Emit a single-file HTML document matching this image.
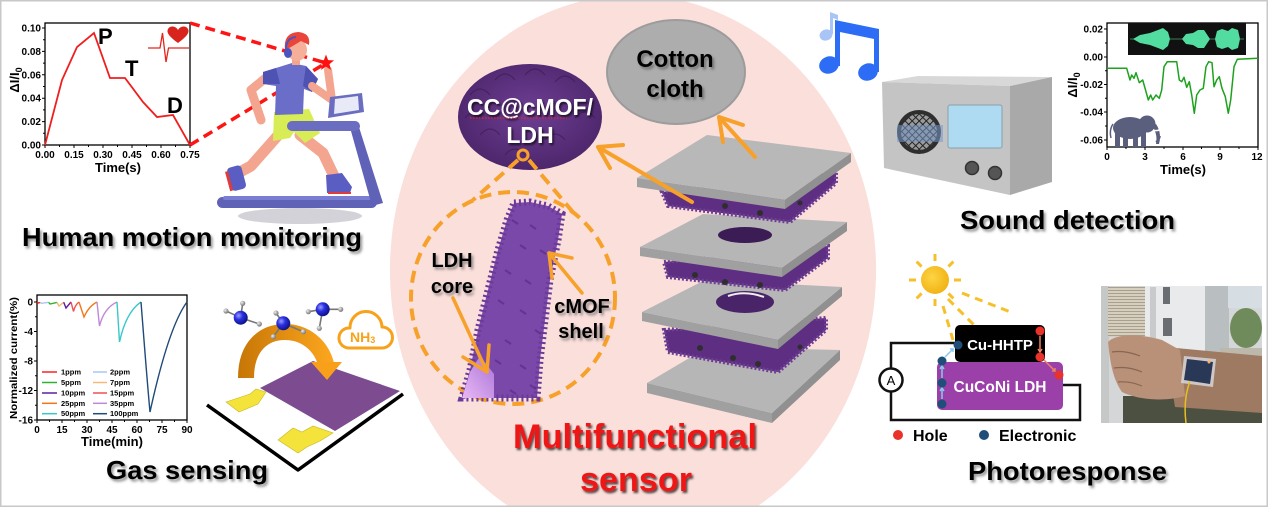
<!DOCTYPE html>
<html><head><meta charset="utf-8">
<style>
html,body{margin:0;padding:0;background:#fff;width:1270px;height:508px;overflow:hidden}
svg{display:block;overflow:hidden}
text{font-family:"Liberation Sans",Arial,Helvetica,sans-serif;font-weight:bold}
</style></head><body>
<svg width="1270" height="508" viewBox="0 0 1270 508" xmlns="http://www.w3.org/2000/svg">
<defs>
<clipPath id="frame"><rect x="0" y="0" width="1270" height="508"/></clipPath>
<filter id="sh" x="-5%" y="-30%" width="115%" height="170%"><feDropShadow dx="2" dy="2.5" stdDeviation="1.2" flood-color="#444" flood-opacity="0.55"/></filter>
<filter id="shd" x="-5%" y="-30%" width="115%" height="170%"><feDropShadow dx="1.5" dy="2" stdDeviation="1" flood-color="#000" flood-opacity="0.7"/></filter>
<radialGradient id="cc" cx="50%" cy="45%" r="60%"><stop offset="0" stop-color="#6e3e94"/><stop offset="1" stop-color="#4a2468"/></radialGradient>
<radialGradient id="nball" cx="35%" cy="35%" r="65%"><stop offset="0" stop-color="#9a9cff"/><stop offset="0.45" stop-color="#2a30e0"/><stop offset="1" stop-color="#10148a"/></radialGradient>
<radialGradient id="hball" cx="35%" cy="35%" r="65%"><stop offset="0" stop-color="#eee"/><stop offset="1" stop-color="#777"/></radialGradient>
<linearGradient id="arcg" gradientUnits="userSpaceOnUse" x1="238" y1="0" x2="330" y2="0"><stop offset="0" stop-color="#c67606"/><stop offset="1" stop-color="#fba51e"/></linearGradient>
<linearGradient id="core" x1="0" y1="1" x2="1" y2="0"><stop offset="0" stop-color="#eab8f6"/><stop offset="1" stop-color="#a874d6"/></linearGradient>
<radialGradient id="sun" cx="40%" cy="40%" r="60%"><stop offset="0" stop-color="#fdd444"/><stop offset="1" stop-color="#f2b416"/></radialGradient>
<pattern id="mesh" width="5" height="5" patternUnits="userSpaceOnUse" patternTransform="rotate(45)"><rect width="5" height="5" fill="#9a9a9a"/><path d="M0,0H5M0,0V5" stroke="#222" stroke-width="2"/></pattern>
<pattern id="louver" width="4" height="3" patternUnits="userSpaceOnUse"><rect width="4" height="3" fill="#d6cfbf"/><rect y="2" width="4" height="1" fill="#a89f8c"/></pattern>
</defs>
<g clip-path="url(#frame)">
<rect width="1270" height="508" fill="#fff"/>
<!-- pink central ellipse (clipped to frame) -->
<path d="M509.7,507 A243,275 0 0 1 586.8,0 L679.2,0 A243,275 0 0 1 756.3,507 Z" fill="#fadfdb"/>

<!-- ============ TOP LEFT CHART ============ -->
<rect x="45" y="23" width="145" height="122" fill="#fff" stroke="#000" stroke-width="1.3"/>
<path d="M45,145h-3M45,133.3h-2M45,121.6h-3M45,109.9h-2M45,98.2h-3M45,86.5h-2M45,74.8h-3M45,63.1h-2M45,51.4h-3M45,39.7h-2M45,28h-3M45,145v3M59.5,145v2M74,145v3M88.5,145v2M103,145v3M117.5,145v2M132,145v3M146.5,145v2M161,145v3M175.5,145v2M190,145v3" stroke="#000" stroke-width="1"/>
<g font-size="10" text-anchor="end">
<text x="41" y="148.5">0.00</text><text x="41" y="125">0.02</text><text x="41" y="101.7">0.04</text><text x="41" y="78.3">0.06</text><text x="41" y="55">0.08</text><text x="41" y="31.5">0.10</text>
</g>
<g font-size="10" text-anchor="middle">
<text x="45" y="158">0.00</text><text x="74" y="158">0.15</text><text x="103" y="158">0.30</text><text x="132" y="158">0.45</text><text x="161" y="158">0.60</text><text x="190" y="158">0.75</text>
</g>
<text x="118" y="172" font-size="13" text-anchor="middle">Time(s)</text>
<text transform="translate(19,80) rotate(-90)" font-size="13" text-anchor="middle">ΔI/I<tspan font-size="9" dy="3">0</tspan></text>
<polyline points="45,145 62,80 77,47 94,33 110,78 125,78 143,102 157,117 173,115 190,145" fill="none" stroke="#f01e1e" stroke-width="1.8"/>
<text x="98" y="44" font-size="22">P</text>
<text x="125" y="76" font-size="22">T</text>
<text x="167" y="113" font-size="22">D</text>
<polyline points="148,48 160,48 162.5,33 166,62 168.5,48 189,48" fill="none" stroke="#e4261d" stroke-width="1.3"/>
<path d="M178,43 C170,37 166,33 168,29 C170,25 176,26 178,30 C180,26 186,25 188,29 C190,33 186,37 178,43 Z" fill="#d8241c"/>

<line x1="190" y1="23" x2="326" y2="63" stroke="#ff1414" stroke-width="3.5" stroke-dasharray="10 6"/>
<line x1="190" y1="145" x2="326" y2="63" stroke="#ff1414" stroke-width="3.5" stroke-dasharray="10 6"/>

<!-- ============ RUNNER ============ -->
<ellipse cx="300" cy="216" rx="62" ry="8" fill="#d2d2d8"/>
<path d="M281,132 L251,166 L240,172" stroke="#f3a58f" stroke-width="11" fill="none" stroke-linecap="round" stroke-linejoin="round"/>
<g transform="rotate(-15 237 178)"><rect x="229" y="166" width="15" height="24" rx="4" fill="#5a5ec2"/><rect x="227" y="169" width="3" height="20" fill="#e03a3a"/></g>
<path d="M300,135 L323,153 L334,176" stroke="#f3a58f" stroke-width="11" fill="none" stroke-linecap="round" stroke-linejoin="round"/>
<path d="M326,175 L342,173 L352,187 L350,193 L327,193 Z" fill="#5a5ec2"/>
<line x1="328" y1="193" x2="351" y2="193" stroke="#e03a3a" stroke-width="2"/>
<path d="M268,76 L251,90 L261,120" stroke="#f3a58f" stroke-width="9" fill="none" stroke-linecap="round" stroke-linejoin="round"/>
<path d="M274,112 L309,109 L320,133 L305,143 L294,132 L290,138 L273,141 Z" fill="#d8ec55"/>
<path d="M263,72 L292,63 L306,66 L318,79 L312,92 L304,89 L303,114 L275,115 L276,86 L263,84 Z" fill="#6a6ec8"/>
<path d="M263,72 L276,68 L280,84 L263,84 Z" fill="#4e52b2"/>
<path d="M306,66 L318,79 L312,92 L303,86 Z" fill="#4e52b2"/>
<path d="M312,86 L332,100 L328,70" stroke="#f3a58f" stroke-width="8" fill="none" stroke-linecap="round" stroke-linejoin="round"/>
<rect x="292" y="56" width="8" height="9" fill="#f3a58f"/>
<ellipse cx="297" cy="50" rx="10" ry="11" fill="#f6b09a"/>
<path d="M285,50 Q283,33 298,32 Q311,33 309,45 L301,41 L291,47 Z" fill="#e9453a"/>
<path d="M286,52 Q285,38 296,37" stroke="#4a55c0" stroke-width="2" fill="none"/>
<ellipse cx="288" cy="53" rx="4" ry="5" fill="#4a55c0"/>
<rect x="217" y="197" width="160" height="11" rx="5.5" fill="#5f62b6"/>
<rect x="223" y="196" width="148" height="4" rx="2" fill="#7a7ed2"/>
<polygon points="349,124 358,124 383,203 372,206" fill="#5f62b6"/>
<rect x="287" y="121" width="73" height="10" rx="5" fill="#6a6dc0"/>
<polygon points="330,97 362,93 364,112 328,118" fill="#6a6dc0"/>
<polygon points="335,99 358,96 359,110 334,114" fill="#e8eaf8"/>
<polygon points="326,54.5 328.12,60.09 334.08,60.37 329.42,64.11 331,69.88 326,66.6 321,69.88 322.58,64.11 317.92,60.37 323.88,60.09" fill="#ff1010"/>

<text x="22" y="246" font-size="26" textLength="340" lengthAdjust="spacingAndGlyphs" filter="url(#sh)">Human motion monitoring</text>

<!-- ============ GAS CHART ============ -->
<rect x="37" y="295" width="150" height="125" fill="#fff" stroke="#000" stroke-width="1.3"/>
<path d="M37,302h-3M37,316.75h-2M37,331.5h-3M37,346.25h-2M37,361h-3M37,375.75h-2M37,390.5h-3M37,405.25h-2M37,420h-3M37,420v3M49.5,420v2M62,420v3M74.5,420v2M87,420v3M99.5,420v2M112,420v3M124.5,420v2M137,420v3M149.5,420v2M162,420v3M174.5,420v2M187,420v3" stroke="#000" stroke-width="1"/>
<g font-size="10" text-anchor="end">
<text x="33" y="305.5">0</text><text x="33" y="335">-4</text><text x="33" y="364.5">-8</text><text x="33" y="394">-12</text><text x="33" y="423.5">-16</text>
</g>
<g font-size="10" text-anchor="middle">
<text x="37" y="433">0</text><text x="62" y="433">15</text><text x="87" y="433">30</text><text x="112" y="433">45</text><text x="137" y="433">60</text><text x="162" y="433">75</text><text x="187" y="433">90</text>
</g>
<text x="112" y="446" font-size="13" text-anchor="middle">Time(min)</text>
<text transform="translate(17,358) rotate(-90)" font-size="10.5" text-anchor="middle" textLength="122" lengthAdjust="spacingAndGlyphs">Normalized current(%)</text>
<g fill="none" stroke-width="1.4">
<path d="M37,302 L38.5,303 L40.3,302.5" stroke="#ff2020"/>
<path d="M40.3,302.5 L41.5,303.3 L48.7,302.3" stroke="#a8c8f0"/>
<path d="M48.7,302.3 L50,304 L57,302.4" stroke="#30b030"/>
<path d="M57,302.4 L59,306 L63.7,302.2" stroke="#f8b878"/>
<path d="M63.7,302.2 L66,308 L71,302" stroke="#5a1fa0"/>
<path d="M71,302 L73.5,311.5 Q75,305 79,302" stroke="#f05050"/>
<path d="M79,302 L84,317 Q89,306 97,302" stroke="#f07818"/>
<path d="M97,302 L99.5,326 Q104,308 117,302" stroke="#c088d8"/>
<path d="M117,302 L119.5,342 Q126,312 141,302" stroke="#38c8c8"/>
<path d="M141,302 C144,340 147,380 150,412 C157,380 170,325 187,302" stroke="#204a78"/>
</g>
<g stroke-width="1.5">
<line x1="42" y1="372" x2="57" y2="372" stroke="#ff2020"/>
<line x1="42" y1="382.5" x2="57" y2="382.5" stroke="#30b030"/>
<line x1="42" y1="393" x2="57" y2="393" stroke="#5a1fa0"/>
<line x1="42" y1="403.3" x2="57" y2="403.3" stroke="#f07818"/>
<line x1="42" y1="413.7" x2="57" y2="413.7" stroke="#38c8c8"/>
<line x1="93" y1="372" x2="107" y2="372" stroke="#a8c8f0"/>
<line x1="93" y1="382.5" x2="107" y2="382.5" stroke="#f8b878"/>
<line x1="93" y1="393" x2="107" y2="393" stroke="#f05050"/>
<line x1="93" y1="403.3" x2="107" y2="403.3" stroke="#c088d8"/>
<line x1="93" y1="413.7" x2="107" y2="413.7" stroke="#204a78"/>
</g>
<g font-size="7.5">
<text x="61" y="374.5">1ppm</text><text x="61" y="385">5ppm</text><text x="61" y="395.5">10ppm</text><text x="61" y="405.8">25ppm</text><text x="61" y="416.2">50ppm</text>
<text x="110" y="374.5">2ppm</text><text x="110" y="385">7ppm</text><text x="110" y="395.5">15ppm</text><text x="110" y="405.8">35ppm</text><text x="110" y="416.2">100ppm</text>
</g>

<!-- ============ GAS DEVICE ============ -->
<polygon points="207,405 288,366 403,392 298,470" fill="#fff"/>
<polyline points="207,405 298,470 403,394" fill="none" stroke="#000" stroke-width="3.5" stroke-linejoin="round"/>
<polygon points="260,388 313,361 400,391 335,431" fill="#7c4b90"/>
<polygon points="226,402 250,394 256,389 266,392 258,404 239,412" fill="#f3e33a" stroke="#c8b820" stroke-width="0.6"/>
<polygon points="278,440 293,428 302,432 313,426 333,433 320,441 307,447 298,453" fill="#f3e33a" stroke="#c8b820" stroke-width="0.6"/>
<path d="M246,378 C246,345 265,332 285,332 C305,332 321,345 326,364" fill="none" stroke="url(#arcg)" stroke-width="16"/>
<polygon points="311,362 342,362 327,380" fill="#f9a01a"/>
<g stroke="#777" stroke-width="1.6">
<line x1="240.7" y1="317.7" x2="226" y2="311"/><line x1="240.7" y1="317.7" x2="242.7" y2="303.3"/><line x1="240.7" y1="317.7" x2="259.3" y2="324"/>
<line x1="283.3" y1="323.3" x2="273.3" y2="336.7"/><line x1="283.3" y1="323.3" x2="303.3" y2="331.7"/><line x1="283.3" y1="323.3" x2="276" y2="313"/>
<line x1="322.7" y1="309.3" x2="308.3" y2="311.7"/><line x1="322.7" y1="309.3" x2="340.7" y2="309.3"/><line x1="322.7" y1="309.3" x2="319.3" y2="328.3"/>
</g>
<g fill="url(#hball)">
<circle cx="226" cy="311" r="2.6"/><circle cx="242.7" cy="303.3" r="2.6"/><circle cx="259.3" cy="324" r="2.6"/>
<circle cx="273.3" cy="336.7" r="2.6"/><circle cx="303.3" cy="331.7" r="2.6"/><circle cx="276" cy="313" r="2.6"/>
<circle cx="308.3" cy="311.7" r="2.6"/><circle cx="340.7" cy="309.3" r="2.6"/><circle cx="319.3" cy="328.3" r="2.6"/>
</g>
<circle cx="240.7" cy="317.7" r="7" fill="url(#nball)"/>
<circle cx="283.3" cy="323.3" r="7" fill="url(#nball)"/>
<circle cx="322.7" cy="309.3" r="7" fill="url(#nball)"/>
<path d="M348,348 A10,10 0 0 1 350,328 A16,16 0 0 1 382,327 A10.5,10.5 0 0 1 382,348 Z" fill="#fff" stroke="#f7a21b" stroke-width="3" stroke-linejoin="round"/>
<text x="350" y="342" font-size="14" fill="#f7a21b">NH<tspan font-size="9" dy="1">3</tspan></text>

<text x="106" y="479" font-size="26" textLength="162" lengthAdjust="spacingAndGlyphs" filter="url(#sh)">Gas sensing</text>

<!-- ============ CENTER ============ -->
<ellipse cx="676" cy="72" rx="69" ry="52" fill="#adadad"/>
<ellipse cx="676" cy="72" rx="69" ry="52" fill="none" stroke="#9c9c9c" stroke-width="2"/>
<text x="675" y="67" font-size="24" text-anchor="middle" filter="url(#sh)">Cotton</text>
<text x="675" y="97" font-size="24" text-anchor="middle" filter="url(#sh)">cloth</text>
<ellipse cx="530" cy="117" rx="72" ry="53" fill="url(#cc)"/>
<g stroke="#3a1a52" stroke-width="1.2" fill="none" opacity="0.6">
<path d="M470,95 q10,-12 20,0 M495,80 q10,-12 20,0 M525,75 q10,-12 20,0 M555,82 q10,-12 20,0 M480,135 q10,-12 20,0 M545,140 q10,-12 20,0 M575,118 q10,-12 20,0 M465,118 q8,-10 16,0 M505,155 q10,-12 20,0"/>
</g>
<text x="530" y="115" font-size="23" fill="#fff" text-anchor="middle" filter="url(#shd)">CC@cMOF/</text>
<text x="530" y="143" font-size="23" fill="#fff" text-anchor="middle" filter="url(#shd)">LDH</text>
<line x1="470" y1="118" x2="567" y2="118" stroke="#ff2020" stroke-width="1" stroke-dasharray="1.5 1.5"/>

<!-- layer stack -->
<polygon points="647,383 772,413 772,423 647,393" fill="#a0a0a0"/>
<polygon points="772,413 840,350 840,360 772,423" fill="#909090"/>
<polygon points="647,383 708,347 840,350 772,413" fill="#b6b6b6"/>
<polygon points="664,330 826,318 826,330 778,372 668,352" fill="#5e2e82" stroke="#6e3e94" stroke-width="4" stroke-dasharray="2 2"/>
<g fill="#2e2e2e"><circle cx="700" cy="348" r="3"/><circle cx="733" cy="358" r="3"/><circle cx="758" cy="364" r="3"/><circle cx="800" cy="347" r="2.5"/></g>
<polygon points="642,312 778,340 778,349 642,321" fill="#a0a0a0"/>
<polygon points="778,340 842,287 842,296 778,349" fill="#909090"/>
<polygon points="642,312 705,280 842,287 778,340" fill="#b6b6b6"/>
<ellipse cx="745" cy="302" rx="29" ry="11" fill="#4a2468"/>
<path d="M728,296 Q745,290 764,297" stroke="#eee" stroke-width="2" fill="none"/>
<polygon points="664,262 828,246 828,258 785,290 668,277" fill="#5e2e82" stroke="#6e3e94" stroke-width="4" stroke-dasharray="2 2"/>
<g fill="#2e2e2e"><circle cx="695" cy="275" r="3"/><circle cx="725" cy="282" r="3"/><circle cx="760" cy="285" r="3"/></g>
<polygon points="640,247 782,268 782,277 640,256" fill="#a0a0a0"/>
<polygon points="782,268 847,222 847,231 782,277" fill="#909090"/>
<polygon points="640,247 703,214 847,222 782,268" fill="#b6b6b6"/>
<ellipse cx="745" cy="235" rx="27" ry="8" fill="#3b1c55"/>
<polygon points="662,192 836,172 836,183 790,222 668,206" fill="#5e2e82" stroke="#6e3e94" stroke-width="4" stroke-dasharray="2 2"/>
<g fill="#2e2e2e"><circle cx="725" cy="206" r="3"/><circle cx="760" cy="213" r="3"/><circle cx="800" cy="203" r="2.5"/></g>
<polygon points="637,178 785,200 785,209 637,187" fill="#a0a0a0"/>
<polygon points="785,200 851,153 851,162 785,209" fill="#909090"/>
<polygon points="637,178 707,135 851,153 785,200" fill="#b8b8b8"/>

<g stroke="#f7a12a" stroke-width="4" fill="none" stroke-linecap="round" stroke-linejoin="round">
<line x1="692" y1="202" x2="598" y2="147"/>
<polyline points="623,145 598,147 610,168"/>
<line x1="755" y1="157" x2="719" y2="117"/>
<polyline points="743,125 719,117 723,142"/>
</g>

<g stroke="#f7a12a" stroke-width="4" fill="none" stroke-dasharray="12 7">
<ellipse cx="513" cy="298" rx="102" ry="106"/>
<line x1="518" y1="160" x2="473" y2="200"/>
<line x1="529" y1="160" x2="577" y2="217"/>
</g>
<circle cx="523" cy="155" r="5" fill="none" stroke="#f7a12a" stroke-width="3"/>

<polygon points="514,203 530,202 548,206 562,214 558,240 550,280 545,320 540,360 537,398 462,398 470,370 478,330 488,290 498,250 507,220" fill="#7a48a8"/>
<polygon points="514,203 530,202 548,206 562,214 558,240 550,280 545,320 540,360 537,398 462,398 470,370 478,330 488,290 498,250 507,220" fill="none" stroke="#6b3a98" stroke-width="7" stroke-dasharray="2 3"/>
<g stroke="#5a2c86" stroke-width="2" opacity="0.7">
<path d="M512,220l6,4M530,225l6,4M520,245l6,4M540,250l6,4M505,270l6,4M525,280l6,4M498,300l6,4M520,310l6,4M535,330l6,4M505,340l6,4M495,360l6,4M520,365l6,4M530,385l6,4M510,390l6,4"/>
</g>
<polygon points="462,398 470,372 480,356 494,374 494,398" fill="url(#core)"/>

<text x="452" y="267" font-size="20" text-anchor="middle" filter="url(#sh)">LDH</text>
<text x="452" y="293" font-size="20" text-anchor="middle" filter="url(#sh)">core</text>
<text x="582" y="313" font-size="20" text-anchor="middle" filter="url(#sh)">cMOF</text>
<text x="581" y="338" font-size="20" text-anchor="middle" filter="url(#sh)">shell</text>
<g stroke="#f7a12a" stroke-width="3.5" fill="none" stroke-linecap="round" stroke-linejoin="round">
<line x1="453" y1="298" x2="487" y2="372"/>
<polyline points="463,357 487,372 489,345"/>
<line x1="582" y1="293" x2="549" y2="253"/>
<polyline points="572,258 549,253 552,278"/>
</g>

<text x="513" y="448" font-size="34" fill="#f01818" textLength="244" lengthAdjust="spacingAndGlyphs" filter="url(#shd)">Multifunctional</text>
<text x="580" y="491" font-size="34" fill="#f01818" textLength="112" lengthAdjust="spacingAndGlyphs" filter="url(#shd)">sensor</text>

<!-- music notes -->
<ellipse cx="826" cy="35" rx="6.5" ry="5.5" fill="#a9c4f6" transform="rotate(-20 826 35)"/>
<path d="M830,34 L830,12 L838,15 L838,20 L833,18 L833,34 Z" fill="#a9c4f6"/>
<ellipse cx="829" cy="65" rx="10" ry="8.5" fill="#2d6df6" transform="rotate(-20 829 65)"/>
<ellipse cx="868" cy="72" rx="10" ry="8.5" fill="#2d6df6" transform="rotate(-20 868 72)"/>
<rect x="835" y="24" width="5" height="42" fill="#2d6df6"/>
<rect x="874" y="32" width="5" height="40" fill="#2d6df6"/>
<polygon points="835,20 879,29 879,40 835,31" fill="#2d6df6"/>

<!-- ============ RADIO ============ -->
<polygon points="882,82 918,76 1052,77 1010,86" fill="#d8d8d8"/>
<polygon points="1010,86 1052,77 1052,182 1010,195" fill="#a9a9a9"/>
<polygon points="882,82 1010,86 1010,195 884,168" fill="#c4c4c4"/>
<circle cx="919" cy="132" r="22" fill="#2e2e2e"/>
<circle cx="919" cy="132" r="18" fill="url(#mesh)"/>
<rect x="897" y="125" width="46" height="17" fill="#7a9ac8" opacity="0.55"/>
<rect x="948" y="105" width="54" height="43" rx="2" fill="#aedaf2" stroke="#8aa0aa" stroke-width="1"/>
<circle cx="972" cy="168" r="6.5" fill="#555" stroke="#333" stroke-width="1.5"/>
<circle cx="995" cy="173" r="6.5" fill="#555" stroke="#333" stroke-width="1.5"/>

<!-- ============ SOUND CHART ============ -->
<rect x="1107" y="23" width="151" height="124" fill="#fff" stroke="#000" stroke-width="1.3"/>
<path d="M1107,29h-3M1107,43h-2M1107,57h-3M1107,70.75h-2M1107,84.5h-3M1107,98.25h-2M1107,112h-3M1107,126h-2M1107,140h-3M1107,147v3M1126,147v2M1145,147v3M1164,147v2M1183,147v3M1201.5,147v2M1220,147v3M1239,147v2M1258,147v3" stroke="#000" stroke-width="1"/>
<g font-size="10" text-anchor="end">
<text x="1103" y="32.5">0.02</text><text x="1103" y="60.5">0.00</text><text x="1103" y="88">-0.02</text><text x="1103" y="115.5">-0.04</text><text x="1103" y="143.5">-0.06</text>
</g>
<g font-size="10" text-anchor="middle">
<text x="1107" y="160">0</text><text x="1145" y="160">3</text><text x="1183" y="160">6</text><text x="1220" y="160">9</text><text x="1257" y="160">12</text>
</g>
<text x="1183" y="174" font-size="13" text-anchor="middle">Time(s)</text>
<text transform="translate(1077,85) rotate(-90)" font-size="13" text-anchor="middle">ΔI/I<tspan font-size="9" dy="3">0</tspan></text>
<rect x="1128" y="23" width="118" height="32" fill="#111"/>
<line x1="1130" y1="39" x2="1244" y2="39" stroke="#3a7a5a" stroke-width="1"/>
<g fill="#52dca0">
<polygon points="1133,39 1140,35 1150,33 1158,30 1163,28 1168,32 1170,39 1168,46 1163,50 1158,48 1150,45 1140,43"/>
<polygon points="1182,39 1186,34 1193,33 1198,30 1204,30 1210,39 1204,48 1198,48 1193,45 1186,44"/>
<polygon points="1215,39 1217,31 1222,29 1228,31 1232,28 1238,30 1240,39 1238,48 1232,50 1228,47 1222,49 1217,47"/>
</g>
<polyline fill="none" stroke="#1ea21e" stroke-width="1.5" stroke-linejoin="round" points="1107,68.3 1126.7,68.3 1130,80 1131.7,75 1134,78.3 1136,72.7 1139.3,82.7 1142.7,80 1146,91.7 1148.3,100 1150.7,95 1152.7,100 1156,95 1159.3,98.3 1161.7,90 1164,66.7 1167.3,61.7 1176.7,61.7 1179.3,80 1181.7,81.7 1184,77.3 1186.7,87.3 1189.3,81.7 1191.7,95 1194.3,113.3 1196.7,95 1200,90 1203.3,88.3 1206,66.7 1208.7,61.7 1212,62.7 1214,86.7 1216.7,80 1219.3,76.7 1222,88.3 1225.3,96.7 1228.3,113.3 1230.7,100 1234,66.7 1237.3,59.3 1258,58.3"/>
<g fill="#5b5f7e">
<ellipse cx="1130" cy="128" rx="17" ry="11"/>
<circle cx="1147" cy="124" r="8.5"/>
<path d="M1152,126 Q1158,134 1156,144 L1159,144 Q1162,133 1156,124 Z"/>
<path d="M1156,142 q3,-2 4,-6" stroke="#5b5f7e" stroke-width="2" fill="none"/>
<rect x="1115" y="132" width="5" height="15"/>
<rect x="1123" y="134" width="5" height="13"/>
<rect x="1133" y="134" width="5" height="13"/>
<rect x="1141" y="131" width="5" height="16"/>
<path d="M1113,124 Q1109,130 1111,138" stroke="#5b5f7e" stroke-width="1.5" fill="none"/>
</g>
<path d="M1153,130 q5,2 8,-2" stroke="#fff" stroke-width="1.5" fill="none"/>

<text x="960" y="229" font-size="26" textLength="215" lengthAdjust="spacingAndGlyphs" filter="url(#sh)">Sound detection</text>

<!-- ============ PHOTORESPONSE ============ -->
<g stroke="#f5c02a" stroke-width="3" stroke-linecap="butt">
<g transform="translate(935,280)">
<line x1="19" y1="0" x2="26" y2="0"/>
<line x1="19" y1="0" x2="26" y2="0" transform="rotate(45)"/>
<line x1="19" y1="0" x2="26" y2="0" transform="rotate(90)"/>
<line x1="19" y1="0" x2="26" y2="0" transform="rotate(135)"/>
<line x1="19" y1="0" x2="26" y2="0" transform="rotate(180)"/>
<line x1="19" y1="0" x2="26" y2="0" transform="rotate(225)"/>
<line x1="19" y1="0" x2="26" y2="0" transform="rotate(270)"/>
<line x1="19" y1="0" x2="26" y2="0" transform="rotate(315)"/>
</g>
<g stroke-dasharray="8 6">
<line x1="962" y1="293" x2="1013" y2="313"/>
<line x1="948" y1="299" x2="974" y2="325"/>
<line x1="943" y1="306" x2="953" y2="340"/>
</g>
</g>
<circle cx="935" cy="280" r="14" fill="url(#sun)"/>
<path d="M955,343 H891 V368 M891,392 V420 H1080 V385 H1063" fill="none" stroke="#111" stroke-width="2.5"/>
<circle cx="891" cy="380" r="11.5" fill="#fff" stroke="#111" stroke-width="2.5"/>
<text x="891" y="385" font-size="13" text-anchor="middle" style="font-weight:normal">A</text>
<rect x="937" y="362" width="126" height="48" rx="5" fill="#9b40a8"/>
<rect x="955" y="325" width="90" height="37" rx="5" fill="#000"/>
<text x="1000" y="350" font-size="15" fill="#fff" text-anchor="middle">Cu-HHTP</text>
<text x="1000" y="392" font-size="15.5" fill="#fff" text-anchor="middle">CuCoNi LDH</text>
<g stroke="#8ac8f0" stroke-width="1.5" fill="none">
<line x1="942" y1="399" x2="942" y2="388"/><polyline points="940,391 942,388 944,391"/>
<line x1="942" y1="378" x2="942" y2="366"/><polyline points="940,369 942,366 944,369"/>
<line x1="945" y1="357" x2="953" y2="349"/><polyline points="950,349 953,349 953,352"/>
</g>
<g stroke="#f08060" stroke-width="1.5" fill="none">
<line x1="1040" y1="336" x2="1040" y2="352"/><polyline points="1038,349 1040,352 1042,349"/>
<line x1="1044" y1="360" x2="1055" y2="371"/><polyline points="1052,371 1055,371 1055,368"/>
</g>
<g fill="#1f4e79"><circle cx="958" cy="345" r="4.5"/><circle cx="942" cy="361" r="4.5"/><circle cx="942" cy="383" r="4.5"/><circle cx="942" cy="404" r="4.5"/></g>
<g fill="#e8322a"><circle cx="1040" cy="331" r="4.5"/><circle cx="1040" cy="357" r="4.5"/><circle cx="1059" cy="375" r="4.5"/></g>
<circle cx="898" cy="435" r="5" fill="#e8322a"/>
<text x="913" y="441" font-size="16">Hole</text>
<circle cx="984" cy="435" r="5" fill="#1f4e79"/>
<text x="999" y="441" font-size="16">Electronic</text>

<g>
<rect x="1101" y="286" width="161" height="137" fill="#d4d6d8"/>
<rect x="1101" y="286" width="8" height="137" fill="#c6c8c8"/>
<rect x="1108" y="287" width="37" height="50" fill="url(#louver)"/>
<rect x="1145" y="286" width="60" height="72" fill="#e8eaeb"/>
<rect x="1163" y="287" width="7" height="17" fill="#6a6e72"/>
<rect x="1163" y="318" width="9" height="18" fill="#6a6e72"/>
<rect x="1150" y="287" width="6" height="60" fill="#c8cacb"/>
<rect x="1205" y="286" width="24" height="90" fill="#b9bec0"/>
<rect x="1228" y="286" width="34" height="22" fill="#d6dee4"/>
<ellipse cx="1246" cy="328" rx="16" ry="20" fill="#6f8b5c"/>
<rect x="1220" y="348" width="42" height="24" fill="#bdb8ac"/>
<rect x="1123" y="396" width="139" height="27" fill="#4c5040"/>
<path d="M1165,347 L1262,356 L1262,413 L1175,407 Z" fill="#9e7a62"/>
<path d="M1108,342 C1116,333 1142,334 1162,340 L1180,350 L1185,396 C1165,402 1138,400 1122,392 C1112,378 1110,360 1108,342 Z" fill="#b99179"/>
<path d="M1112,352 Q1125,350 1140,356 M1114,368 Q1128,366 1142,372 M1118,382 Q1130,381 1142,386" stroke="#8a6550" stroke-width="1.2" fill="none"/>
<polygon points="1184,356 1216,359 1213,387 1181,383" fill="#dde2e8" opacity="0.75"/>
<polygon points="1187,359 1213,362 1210,384 1184,380" fill="#2a3858"/>
<circle cx="1209" cy="362" r="1.5" fill="#ffb060"/>
<path d="M1190,381 Q1183,400 1186,423" stroke="#e8c020" stroke-width="1.5" fill="none"/>
</g>

<text x="968" y="480" font-size="26" textLength="199" lengthAdjust="spacingAndGlyphs" filter="url(#sh)">Photoresponse</text>

<rect x="0.75" y="0.75" width="1266.5" height="505.5" fill="none" stroke="#c8c8c8" stroke-width="1.5"/>
</g>
</svg>
</body></html>
